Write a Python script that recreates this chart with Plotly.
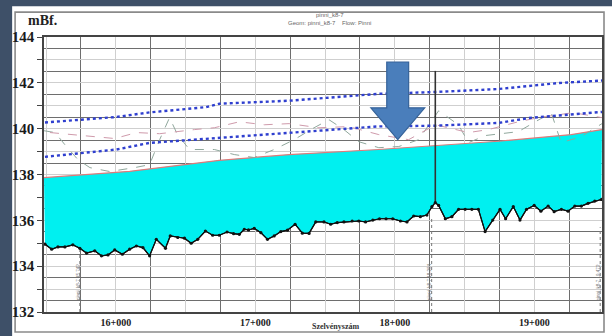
import plotly.graph_objects as go

# ---------------- data ----------------
bed_station = [15492, 15540, 15585, 15635, 15692, 15742, 15790, 15849, 15897, 15944,
               15992, 16047, 16099, 16147, 16194, 16242, 16290, 16356, 16390, 16444,
               16492, 16540, 16587, 16642, 16694, 16742, 16797, 16844, 16885, 16921,
               16951, 16992, 17040, 17087, 17135, 17183, 17230, 17285, 17337, 17385,
               17433, 17492, 17540, 17587, 17635, 17694, 17742, 17790, 17842, 17890,
               17937, 17985, 18040, 18087, 18135, 18183, 18230, 18266, 18290, 18314,
               18362, 18409, 18457, 18504, 18552, 18599, 18647, 18702, 18754, 18794,
               18849, 18897, 18944, 18999, 19047, 19099, 19142, 19194, 19242, 19290,
               19337, 19385, 19433, 19480]
bed_elev = [134.96, 134.74, 134.84, 134.84, 134.93, 134.78, 134.57, 134.67, 134.45, 134.49,
            134.71, 134.52, 134.74, 134.88, 134.81, 134.45, 135.17, 134.78, 135.32, 135.25,
            135.22, 135.00, 135.17, 135.53, 135.35, 135.35, 135.49, 135.42, 135.39, 135.61,
            135.58, 135.65, 135.46, 135.17, 135.32, 135.51, 135.57, 135.83, 135.44, 135.43,
            135.93, 135.93, 135.83, 135.90, 135.93, 135.97, 135.97, 135.93, 136.01, 136.07,
            136.07, 136.07, 135.97, 135.93, 136.19, 136.16, 136.23, 136.60, 136.77, 136.65,
            136.07, 136.16, 136.48, 136.48, 136.48, 136.48, 135.51, 136.01, 136.48, 136.07,
            136.60, 136.01, 136.48, 136.65, 136.40, 136.62, 136.38, 136.48, 136.40, 136.62,
            136.62, 136.74, 136.84, 136.91]

ws_station = [15485, 16099, 16742, 17242, 17885, 18292, 18742, 19264, 19485]
ws_elev = [137.86, 138.14, 138.62, 138.87, 139.09, 139.26, 139.45, 139.74, 139.96]

blue_up_station = [15492, 16004, 16242, 16647, 16742, 17242, 17885, 18292, 18742, 19171, 19485]
blue_up_elev = [140.27, 140.51, 140.71, 140.94, 141.09, 141.22, 141.52, 141.60, 141.73, 141.99, 142.10]

blue_lo_station = [15492, 15742, 16004, 16242, 16742, 17242, 17885, 18292, 18742, 18956, 19485]
blue_lo_elev = [138.77, 138.94, 139.09, 139.38, 139.60, 139.81, 140.10, 140.13, 140.25, 140.46, 140.73]

grey_station = [15485, 15564, 15635, 15728, 15814, 15956, 16135, 16242, 16314, 16385,
                16442, 16528, 16706, 16849, 16992, 17135, 17278, 17421, 17528, 17635,
                17742, 17885, 18028, 18171, 18314, 18456, 18528, 18649, 18885, 19121,
                19192, 19335, 19485]
grey_elev = [139.91, 139.83, 139.30, 138.65, 138.30, 138.13, 138.30, 138.43, 139.52, 140.48,
             139.74, 139.09, 139.09, 138.87, 138.74, 139.09, 139.52, 140.04, 140.39, 139.96,
             139.43, 139.17, 139.22, 139.52, 140.78, 140.17, 139.39, 139.70, 139.87, 140.70,
             139.39, 139.65, 140.22]

pink_station = [15528, 15671, 15849, 15992, 16149, 16314, 16564, 16706, 16885, 17064,
                17242, 17456, 17671, 17885, 18099, 18292, 18528, 18671, 18885, 19028,
                19278, 19485]
pink_elev = [139.83, 139.74, 139.65, 139.57, 139.83, 139.78, 139.96, 140.04, 140.30, 140.17,
             140.22, 140.04, 140.09, 139.74, 139.52, 140.17, 139.83, 139.96, 140.30, 140.48,
             140.70, 140.48]

structure_station = [18290, 18290]
structure_elev = [136.77, 142.52]

xs_station = [15742, 18264, 19472]
xs_top = [134.70, 136.10, 135.70]
xs_label = ["pinni_k8-7 15.742", "pinni_k8-7 18.264", "pinni_k8-7 19.472"]

y_vals = list(range(132, 145))
y_text = [str(v) if v % 2 == 0 else "" for v in y_vals]
x_major = [15500, 16000, 16500, 17000, 17500, 18000, 18500, 19000]
x_major_text = ["", "16+000", "", "17+000", "", "18+000", "", "19+000"]

# ---------------- figure ----------------
fig = go.Figure()

fig.add_trace(go.Scatter(x=bed_station, y=bed_elev, mode="lines",
                         line=dict(color="black", width=1.2), hoverinfo="skip"))
fig.add_trace(go.Scatter(x=ws_station, y=ws_elev, mode="lines", fill="tonexty",
                         fillcolor="#00f0f0", line=dict(color="#e07a7a", width=1.2)))

for s, t in zip(xs_station, xs_top):
    fig.add_trace(go.Scatter(x=[s, s], y=[132, t], mode="lines",
                             line=dict(color="#777777", width=1, dash="dot")))

fig.add_trace(go.Scatter(x=grey_station, y=grey_elev, mode="lines",
                         line=dict(color="#8fa79c", width=1, dash="dash")))
fig.add_trace(go.Scatter(x=pink_station, y=pink_elev, mode="lines",
                         line=dict(color="#cf9aab", width=1, dash="dash")))

for xs, ys in ((blue_up_station, blue_up_elev), (blue_lo_station, blue_lo_elev)):
    fig.add_trace(go.Scatter(x=xs, y=ys, mode="lines",
                             line=dict(color="#2f3fcf", width=2.4, dash="dot")))

fig.add_trace(go.Scatter(x=structure_station, y=structure_elev, mode="lines",
                         line=dict(color="#333333", width=1.6)))

fig.add_trace(go.Scatter(x=bed_station, y=bed_elev, mode="lines+markers",
                         line=dict(color="#111111", width=1.1),
                         marker=dict(color="#111111", size=3.2)))

serif = "Liberation Serif"

shapes = [
    dict(type="rect", xref="paper", yref="paper", x0=-0.0571, x1=1.03, y0=-0.12, y1=1.112,
         fillcolor="white", line=dict(width=0), layer="below"),
    dict(type="rect", xref="paper", yref="paper", x0=-0.0518, x1=1.0036, y0=-0.0725, y1=1.0906,
         fillcolor="rgba(0,0,0,0)", line=dict(color="#8a8a8a", width=1.6), layer="below"),
    dict(type="path", xref="x", yref="y",
         path="M 17942 142.91 L 18099 142.91 L 18099 140.91 L 18214 140.91 L 18021 139.52 "
              "L 17828 140.91 L 17942 140.91 Z",
         fillcolor="#4a7ebb", line=dict(color="#36639a", width=1.2), layer="above"),
]

annotations = [
    dict(text="mBf.", xref="paper", yref="paper", x=-0.003, y=1.06,
         xanchor="center", yanchor="middle",
         showarrow=False, font=dict(family=serif, size=14, color="#222", weight="bold")),
    dict(text="pinni_k8-7", xref="paper", yref="paper", x=0.5125, y=1.08,
         xanchor="center", yanchor="middle",
         showarrow=False, font=dict(family="Liberation Sans", size=6, color="#666")),
    dict(text="Geom: pinni_k8-7    Flow: Pinni", xref="paper", yref="paper", x=0.5125, y=1.05,
         xanchor="center", yanchor="middle",
         showarrow=False, font=dict(family="Liberation Sans", size=6, color="#666")),
    dict(text="Szelvényszám", xref="paper", yref="paper", x=0.523, y=-0.052,
         xanchor="center", yanchor="middle",
         showarrow=False, font=dict(family=serif, size=8, color="#333", weight="bold")),
]
for s, lab in zip(xs_station, xs_label):
    annotations.append(dict(text=lab, x=s, y=133.3, xref="x", yref="y", textangle=-90,
                            showarrow=False, xshift=-2,
                            font=dict(family="Liberation Sans", size=4.5, color="#777")))

fig.update_layout(
    width=612, height=336,
    margin=dict(l=44, r=8, t=37, b=23),
    paper_bgcolor="#3e5068",
    plot_bgcolor="white",
    showlegend=False,
    shapes=shapes,
    annotations=annotations,
    xaxis=dict(range=[15485, 19485], tickmode="array", tickvals=x_major, ticktext=x_major_text,
               showgrid=True, gridcolor="#cfcfcf", gridwidth=1,
               minor=dict(tick0=15750, dtick=500, showgrid=True, gridcolor="#6e6e6e", gridwidth=1.3),
               ticks="", showline=True, mirror=True, linecolor="#444", linewidth=1.5,
               tickangle=0,
               tickfont=dict(family=serif, size=10, color="#222", weight="bold"), zeroline=False),
    yaxis=dict(range=[132, 144], tickmode="array", tickvals=y_vals, ticktext=y_text,
               showgrid=True, gridcolor="#cfcfcf", gridwidth=1,
               minor=dict(tick0=132.5, dtick=1, showgrid=True, gridcolor="#6e6e6e", gridwidth=1.2),
               ticks="outside", ticklen=5, tickcolor="#444",
               showline=True, mirror=True, linecolor="#444", linewidth=1.5,
               tickfont=dict(family=serif, size=15, color="#1a1a1a", weight="bold"), zeroline=False),
)

fig.write_html("out.html", config={"displayModeBar": False},
               post_script="document.body.style.margin='0';document.body.style.overflow='hidden';")
